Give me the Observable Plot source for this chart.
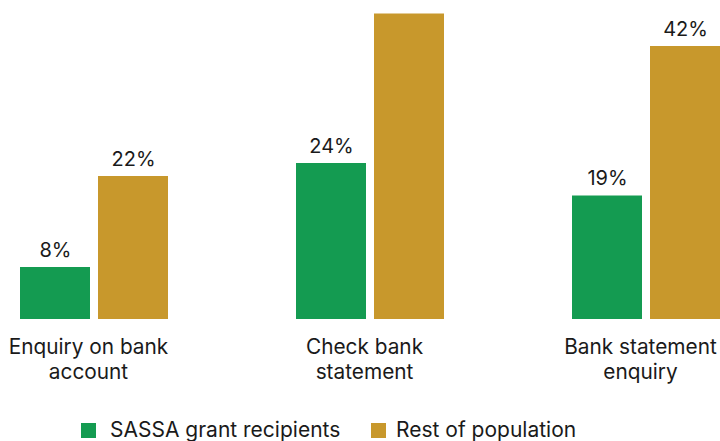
<!DOCTYPE html>
<html>
<head>
<meta charset="utf-8">
<script src="https://cdn.jsdelivr.net/npm/d3@7"></script>
<script src="https://cdn.jsdelivr.net/npm/@observablehq/plot@0.6"></script>
<style>
  html, body { margin: 0; padding: 0; background: #fff; }
  #wrap { position: relative; width: 720px; height: 441px; overflow: hidden; font-family: Inter, sans-serif; color: #1a1a1a; }
  .sw { position: absolute; top: 423px; width: 15px; height: 15px; }
  .lt { position: absolute; top: 418px; font-size: 21px; line-height: 24px; white-space: nowrap; }
</style>
</head>
<body>
<div id="wrap"><div id="chart"></div></div>
<script>
const categories = ["Enquiry on bank account", "Check bank statement", "Bank statement enquiry"];
const tickLabels = ["Enquiry on bank\naccount", "Check bank\nstatement", "Bank statement\nenquiry"];
const series = ["SASSA grant recipients", "Rest of population"];
const sassaValues = [8, 24, 19];
const restValues = [22, 47, 42];
const colors = ["#149b51", "#c8982c"];

const data = [];
categories.forEach((c, i) => {
  data.push({cat: c, series: series[0], value: sassaValues[i]});
  data.push({cat: c, series: series[1], value: restValues[i]});
});

const chart = Plot.plot({
  width: 720,
  height: 400,
  marginLeft: 19,
  marginRight: 0,
  marginTop: 13.5,
  marginBottom: 81,
  style: {fontFamily: "Inter, sans-serif", fontSize: "21px", color: "#1a1a1a", background: "white"},
  fx: {domain: categories, paddingInner: 0.4647, paddingOuter: 0, label: null},
  x: {domain: series, paddingInner: 8 / 78, paddingOuter: 0, axis: null},
  y: {domain: [0, 47], axis: null},
  color: {domain: series, range: colors},
  marks: [
    Plot.barY(data, {fx: "cat", x: "series", y: "value", fill: "series"}),
    // the label of the tallest bar lies above the visible area in the reference
    Plot.text(data.filter(d => d.value < 45), {fx: "cat", x: "series", y: "value", text: d => d.value + "%", lineAnchor: "bottom", dy: -11, fontSize: 20, fill: "#1a1a1a"}),
    Plot.axisFx({anchor: "bottom", tickSize: 0, tickPadding: 16, fontSize: 20.8, lineHeight: 1.23, dx: -6, label: null,
      tickFormat: d => tickLabels[categories.indexOf(d)]})
  ]
});
document.getElementById("chart").appendChild(chart);

const wrap = document.getElementById("wrap");
const swatchX = [81, 371];
const textX = [110, 396];
series.forEach((s, i) => {
  const sw = document.createElement("div");
  sw.className = "sw";
  sw.style.left = swatchX[i] + "px";
  sw.style.background = colors[i];
  const t = document.createElement("div");
  t.className = "lt";
  t.style.left = textX[i] + "px";
  t.textContent = s;
  wrap.appendChild(sw);
  wrap.appendChild(t);
});
</script>
</body>
</html>
